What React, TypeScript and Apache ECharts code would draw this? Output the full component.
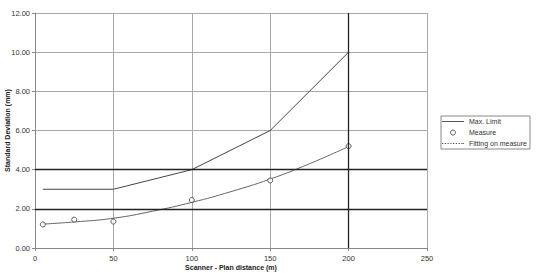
import React, { useEffect, useRef } from "react";
import * as echarts from "echarts";

const maxLimitX = [5, 50, 100, 150, 200];
const maxLimitY = [3, 3, 4, 6, 10];
const measureX = [5, 25, 50, 100, 150, 200];
const measureY = [1.2, 1.45, 1.35, 2.45, 3.45, 5.2];
const fitX = [5, 25, 50, 75, 100, 125, 150, 175, 200];
const fitY = [1.22, 1.33, 1.52, 1.88, 2.33, 2.88, 3.52, 4.3, 5.18];
const darkYLines = [2, 4];
const darkXLines = [200];

const solidIcon = "path://M0,0L24,0L24,1L0,1Z";
const dottedIcon =
  "path://" +
  [0, 3, 6, 9, 12, 15, 18, 21].map((x) => `M${x},0h1.4v1h-1.4Z`).join("") +
  "M23,0h1v1h-1Z";

export default function App() {
  const ref = useRef<HTMLDivElement>(null);
  useEffect(() => {
    if (!ref.current) return;
    const chart = echarts.init(ref.current, null, { renderer: "svg" });
    const font = "Liberation Sans, Arial, sans-serif";
    const lt = { fontSize: 7, color: "#333", fontFamily: font };
    chart.setOption({
      animation: false,
      backgroundColor: "#fff",
      textStyle: { fontFamily: font },
      grid: {
        left: 35,
        right: 113,
        top: 13,
        bottom: 25,
        containLabel: false,
        outerBoundsMode: "none",
      },
      legend: {
        orient: "vertical",
        left: 441,
        top: 116,
        itemWidth: 22,
        itemHeight: 5,
        itemGap: 4,
        padding: [2, 3, 2, 1],
        borderColor: "#888",
        borderWidth: 1,
        symbolKeepAspect: true,
        textStyle: lt,
        data: [
          {
            name: "Max. Limit",
            icon: solidIcon,
            itemStyle: { color: "#444", borderWidth: 0 },
            textStyle: lt,
          },
          {
            name: "Measure",
            icon: "circle",
            itemStyle: { color: "#fff", borderColor: "#333", borderWidth: 1 },
            textStyle: lt,
          },
          {
            name: "Fitting on measure",
            icon: dottedIcon,
            itemStyle: { color: "#555", borderWidth: 0 },
            textStyle: lt,
          },
        ],
      },
      xAxis: {
        type: "value",
        min: 0,
        max: 250,
        interval: 50,
        name: "Scanner - Plan distance (m)",
        nameLocation: "middle",
        nameGap: 16,
        nameMoveOverlap: false,
        nameTextStyle: { fontSize: 7, fontWeight: "bold", color: "#222" },
        axisLine: { show: true, lineStyle: { color: "#888" } },
        axisTick: { show: true, length: 3, lineStyle: { color: "#888" } },
        axisLabel: { fontSize: 7.5, color: "#333", margin: 6 },
        splitLine: { show: true, lineStyle: { color: "#aaa", width: 1 } },
      },
      yAxis: {
        type: "value",
        min: 0,
        max: 12,
        interval: 2,
        name: "Standard Deviation (mm)",
        nameLocation: "middle",
        nameGap: 24,
        nameMoveOverlap: false,
        nameTextStyle: { fontSize: 7, fontWeight: "bold", color: "#222" },
        axisLine: { show: true, lineStyle: { color: "#888" } },
        axisTick: { show: true, length: 3, lineStyle: { color: "#888" } },
        axisLabel: {
          fontSize: 7.5,
          color: "#333",
          margin: 5,
          formatter: (v: number) => v.toFixed(2),
        },
        splitLine: { show: true, lineStyle: { color: "#aaa", width: 1 } },
      },
      series: [
        {
          name: "Max. Limit",
          type: "line",
          symbol: "none",
          data: maxLimitX.map((x, i) => [x, maxLimitY[i]]),
          lineStyle: { color: "#444", width: 1 },
          itemStyle: { color: "#444" },
          markLine: {
            silent: true,
            symbol: "none",
            label: { show: false },
            lineStyle: { color: "#222", width: 1.3, type: "solid" },
            data: [
              ...darkYLines.map((v) => ({ yAxis: v })),
              ...darkXLines.map((v) => ({ xAxis: v })),
            ],
          },
          z: 3,
        },
        {
          name: "Fitting on measure",
          type: "line",
          symbol: "none",
          smooth: true,
          data: fitX.map((x, i) => [x, fitY[i]]),
          lineStyle: { color: "#666", width: 1 },
          itemStyle: { color: "#666" },
          z: 3,
        },
        {
          name: "Measure",
          type: "scatter",
          symbol: "circle",
          symbolSize: 5,
          data: measureX.map((x, i) => [x, measureY[i]]),
          itemStyle: { color: "#fff", borderColor: "#333", borderWidth: 1 },
          z: 4,
        },
      ],
    });
    return () => chart.dispose();
  }, []);
  return <div ref={ref} style={{ width: 540, height: 273, position: "absolute", left: 0, top: 0 }} />;
}
